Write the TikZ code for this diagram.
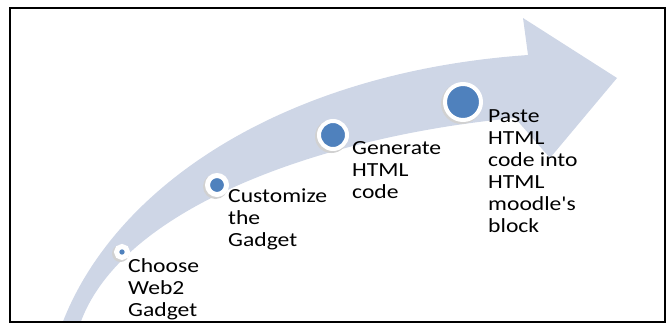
\documentclass[tikz,border=0pt]{standalone}
\usepackage{fontspec}
\newfontfamily\stepfont[FakeStretch=1.18]{Carlito}
\definecolor{bandgray}{RGB}{206,214,230}
\definecolor{dotblue}{RGB}{79,129,189}

\begin{document}
\begin{tikzpicture}[x=1pt, y=-1pt,
  stepdot/.style={circle, fill=dotblue, draw=white, inner sep=0pt},
  steptext/.style={anchor=north west, inner sep=0pt, align=left, font=\stepfont\fontsize{20}{22}\selectfont}]
\useasboundingbox (0,0) rectangle (671,327);
% curved arrow band
\begin{scope}
\clip (10,8) rectangle (665,322);
\fill[bandgray] (62,324) .. controls (115,185) and (285,72) .. (528,55) -- (523,18) -- (617,78) -- (550,158) -- (515,118)
  .. controls (330,135) and (122,205) .. (80,324) -- cycle;
\end{scope}
% step markers, small to large
\fill[black!18] (120.5,253.5) circle (8.5); \node[stepdot, minimum size=11pt, line width=5pt] (dot1) at (122,252) {};
\fill[black!18] (215.5,186.5) circle (12.5); \node[stepdot, minimum size=19pt, line width=5pt] (dot2) at (217,185) {};
\fill[black!18] (331.5,136.5) circle (16.5); \node[stepdot, minimum size=28pt, line width=4pt] (dot3) at (333,135) {};
\fill[black!18] (461.5,103.5) circle (20.5); \node[stepdot, minimum size=36pt, line width=4pt] (dot4) at (463,102) {};
% step labels
\node[steptext] (lbl1) at (128,258) {Choose\\Web2\\Gadget};
\node[steptext] (lbl2) at (228,189) {Customize\\the\\Gadget};
\node[steptext] (lbl3) at (352,141) {Generate\\HTML\\code};
\node[steptext] (lbl4) at (488,109) {Paste\\HTML\\code into\\HTML\\moodle's\\block};
% frame
\draw[line width=1.4pt] (10,8) rectangle (665,322);
\end{tikzpicture}
\end{document}
